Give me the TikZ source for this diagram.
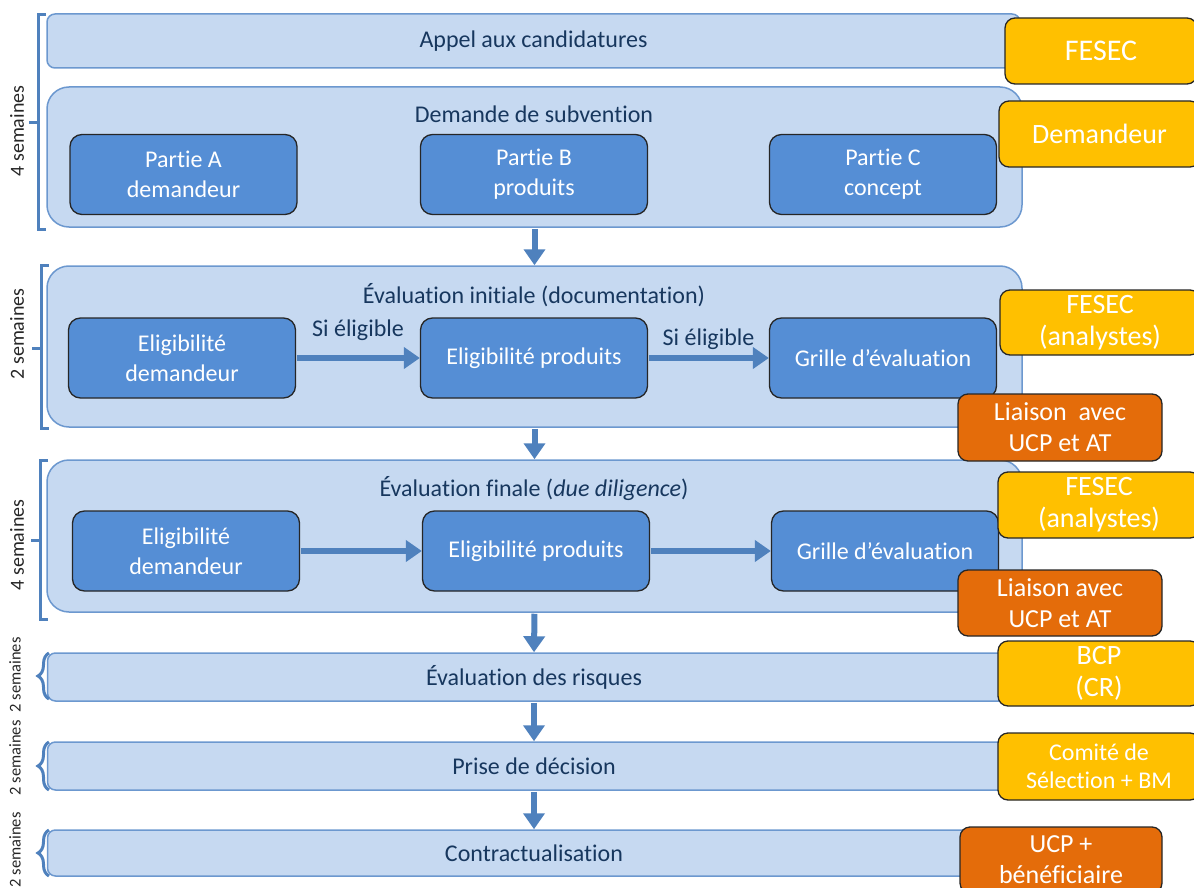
\documentclass[tikz,border=0pt]{standalone}
\usepackage{fontspec}
\setmainfont{Carlito}[Ligatures=NoCommon]
\usetikzlibrary{arrows.meta, decorations.pathreplacing}

\definecolor{phasefill}{HTML}{C6D9F1}
\definecolor{phaseline}{HTML}{6C98CF}
\definecolor{stepfill}{HTML}{558ED5}
\definecolor{navy}{HTML}{17375E}
\definecolor{flowblue}{HTML}{4F81BD}
\definecolor{gold}{HTML}{FFC000}
\definecolor{rust}{HTML}{E46C0A}
\definecolor{edge}{HTML}{262626}

\newcommand\setsz[2]{\fontsize{#1}{#2}\selectfont}

\tikzset{
    phase/.style={draw=phaseline, fill=phasefill, line width=1.5pt,
        rounded corners=#1, text=navy, font=\setsz{24}{29}},
    phase/.default=8pt,
    title/.style={text=navy, font=\setsz{24}{29}},
    stepbox/.style={draw=edge, fill=stepfill, line width=1.3pt, rounded corners=12pt,
        minimum width=227, minimum height=80, text=white, align=center,
        font=\setsz{24}{30}},
    actor/.style={draw=edge, fill=gold, line width=1.3pt, rounded corners=10pt,
        text=white, align=center, font=\setsz{28}{32}},
    liaison/.style={actor, fill=rust, font=\setsz{26}{31}},
    flow/.style={draw=flowblue, line width=6pt,
        -{Triangle[width=21pt, length=16pt]}, shorten <=1pt},
    lbl/.style={text=navy, font=\setsz{24}{29}},
    bracket/.style={draw=flowblue, line width=3pt},
    curly/.style={draw=flowblue, line width=3pt, decorate,
        decoration={brace, amplitude=11pt}},
    weeks/.style={rotate=90, text=black!85, font=\setsz{20}{24}},
    smallweeks/.style={weeks, font=\setsz{16.5}{20}}
}

\begin{document}
\begin{tikzpicture}[x=1pt, y=-1pt]
    \useasboundingbox (0,0) rectangle (1194,888);
    \clip (0,0) rectangle (1194,888);

    % phases
    \node[phase, minimum width=973, minimum height=54] (appel) at (533.5,41) {Appel aux candidatures};
    \node[phase=22pt, minimum width=975, minimum height=140] (demande) at (534.5,157) {};
    \node[phase=22pt, minimum width=975, minimum height=161] (evalinit) at (534.5,346.5) {};
    \node[phase=22pt, minimum width=975, minimum height=152] (evalfin) at (534.5,536) {};
    \node[phase, minimum width=973, minimum height=48] (risques) at (534,677) {\'Evaluation des risques};
    \node[phase, minimum width=973, minimum height=48] (decision) at (534,766) {Prise de d\'ecision};
    \node[phase, minimum width=973, minimum height=46] (contrat) at (534,853) {Contractualisation};

    \node[title] (demandeT) at (534,114) {Demande de subvention};
    \node[title] (initT) at (534,295) {\'Evaluation initiale (documentation)};
    \node[title] (finT) at (534,489) {\'Evaluation finale (\textit{due diligence})};

    % steps
    \node[stepbox] (partA) at (183.5,174.5) {Partie A\\demandeur};
    \node[stepbox] (partB) at (534,174.5) {Partie B\\produits};
    \node[stepbox] (partC) at (883,174.5) {Partie C\\concept};

    \node[stepbox] (eligD1) at (182,358) {Eligibilit\'e\\demandeur};
    \node[stepbox] (eligP1) at (534,358) {Eligibilit\'e produits};
    \node[stepbox] (grille1) at (883,358) {Grille d’\'evaluation};

    \node[stepbox] (eligD2) at (186,551) {Eligibilit\'e\\demandeur};
    \node[stepbox] (eligP2) at (536,551) {Eligibilit\'e produits};
    \node[stepbox] (grille2) at (885,551) {Grille d’\'evaluation};

    % flow
    \draw[flow] (demande.south) -- (evalinit.north);
    \draw[flow] (evalinit.south) -- (evalfin.north);
    \draw[flow] (evalfin.south) -- (risques.north);
    \draw[flow] (risques.south) -- (decision.north);
    \draw[flow] (decision.south) -- (contrat.north);

    \draw[flow] (eligD1) -- node[lbl, midway, yshift=28] {Si \'eligible} (eligP1);
    \draw[flow] (eligP1) -- node[lbl, midway, yshift=19] {Si \'eligible} (grille1);
    \draw[flow] (eligD2) -- (eligP2);
    \draw[flow] (eligP2) -- (grille2);

    % brackets on the left
    \foreach \t/\b/\m/\x in {15/229/123/38, 265/428/348/41, 460/619/540/40}{
        \draw[bracket] (\x+8,\t) -- (\x,\t) -- (\x,\b) -- (\x+8,\b);
        \draw[bracket] (\x,\m) -- (\x-9,\m);
    }
    \foreach \t/\b in {653/699, 742/790, 830/876}
        \draw[curly] (49,\b) -- (49,\t);

    \node[weeks] (w1) at (17,131) {4 semaines};
    \node[weeks] (w2) at (17,334) {2 semaines};
    \node[weeks] (w3) at (17,545) {4 semaines};
    \node[smallweeks] (w4) at (15,675) {2 semaines};
    \node[smallweeks] (w5) at (15,758) {2 semaines};
    \node[smallweeks] (w6) at (15,850) {2 semaines};

    % actors
    \node[actor, minimum width=192, minimum height=66, font=\setsz{30}{34}] (fesec) at (1101,51) {FESEC};
    \node[actor, minimum width=201, minimum height=66] (demandeur) at (1099.5,134) {Demandeur};
    \node[actor, minimum width=200, minimum height=65] (analyst1) at (1100,322.5) {FESEC\\(analystes)};
    \node[liaison, minimum width=204, minimum height=67] (liaison1) at (1060,427.5) {Liaison~ avec\\UCP et AT};
    \node[actor, minimum width=202, minimum height=66] (analyst2) at (1099,505) {FESEC\\(analystes)};
    \node[liaison, minimum width=204, minimum height=66] (liaison2) at (1060,603) {Liaison avec\\UCP et AT};
    \node[actor, minimum width=202, minimum height=65] (bcp) at (1099,673.5) {BCP\\(CR)};
    \node[actor, minimum width=202, minimum height=67, font=\setsz{24}{28}] (comite) at (1099,766.5) {Comit\'e de\\S\'election + BM};
    \node[liaison, minimum width=202, minimum height=66] (ucp) at (1061,860) {UCP +\\b\'en\'eficiaire};
\end{tikzpicture}
\end{document}
